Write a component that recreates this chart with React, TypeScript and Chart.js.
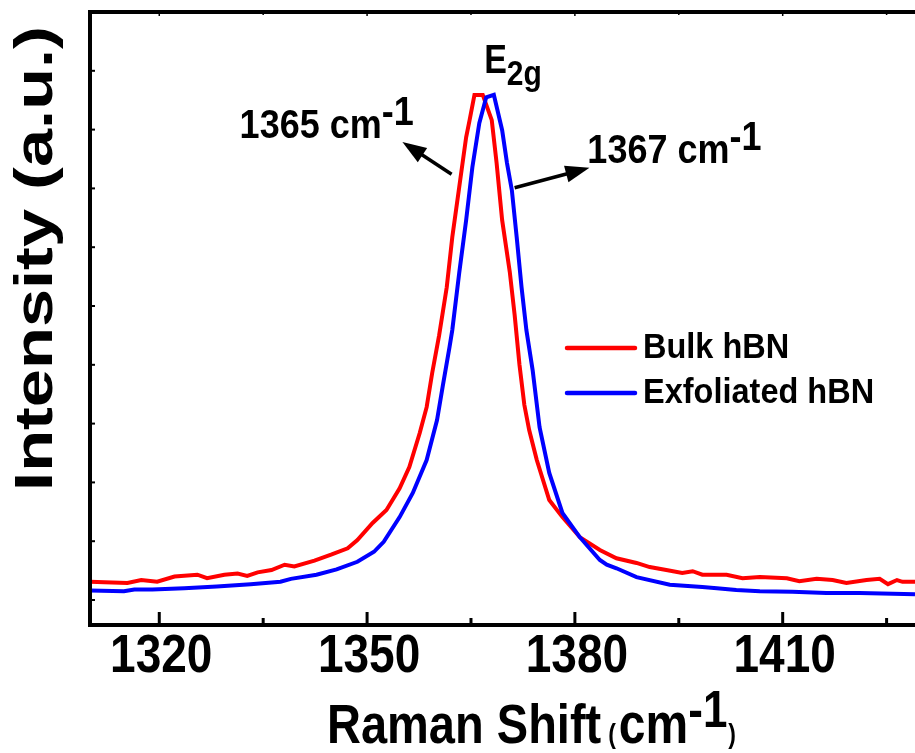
import React, { useEffect, useRef } from 'react';
import { Chart, registerables } from 'chart.js';

Chart.register(...registerables);

// ---- data ----
const bulkShift = [
  1310.0, 1312.1, 1315.4, 1317.4, 1319.7, 1322.2, 1325.5, 1326.9, 1329.4, 1331.3,
  1332.7, 1334.2, 1336.2, 1338.1, 1339.5, 1342.4, 1344.8, 1347.2, 1348.6, 1350.8,
  1352.8, 1354.7, 1356.1, 1357.6, 1358.6, 1359.4, 1360.4, 1361.5, 1362.3, 1363.3,
  1364.3, 1364.8, 1365.5, 1366.7, 1368.0, 1368.7, 1369.5, 1370.6, 1371.3, 1372.0,
  1372.7, 1373.4, 1374.5, 1376.3, 1378.2, 1380.7, 1383.6, 1386.0, 1388.9, 1390.8,
  1393.2, 1395.5, 1397.0, 1398.4, 1401.9, 1404.2, 1406.7, 1410.6, 1412.4, 1414.9,
  1417.2, 1419.2, 1422.1, 1424.0, 1425.2, 1426.5, 1427.3, 1429.1,
];
const bulkIntensity = [
  0.31, 0.30, 0.29, 0.34, 0.31, 0.40, 0.43, 0.37, 0.43, 0.45,
  0.41, 0.47, 0.51, 0.60, 0.57, 0.67, 0.77, 0.88, 1.02, 1.31,
  1.53, 1.90, 2.26, 2.84, 3.28, 3.86, 4.50, 5.32, 6.17, 7.02,
  7.87, 8.16, 8.59, 8.59, 8.16, 7.43, 6.46, 5.58, 4.85, 4.00,
  3.32, 2.89, 2.38, 1.70, 1.41, 1.07, 0.85, 0.71, 0.63, 0.56,
  0.51, 0.46, 0.49, 0.43, 0.43, 0.37, 0.39, 0.37, 0.32, 0.36,
  0.34, 0.29, 0.34, 0.36, 0.27, 0.34, 0.31, 0.31,
];
const exfShift = [
  1310.0, 1314.9, 1316.4, 1319.0, 1323.6, 1328.3, 1333.2, 1337.5, 1339.0, 1342.7,
  1345.6, 1348.6, 1351.0, 1352.4, 1354.7, 1356.6, 1358.6, 1360.1, 1360.9, 1361.9,
  1362.3, 1363.3, 1364.3, 1365.2, 1366.2, 1367.2, 1368.3, 1369.5, 1370.2, 1370.9,
  1371.6, 1372.3, 1373.0, 1373.9, 1374.9, 1376.3, 1378.2, 1380.7, 1383.6, 1384.6,
  1386.0, 1388.9, 1393.7, 1398.4, 1400.5, 1403.3, 1406.7, 1411.4, 1416.3, 1421.1,
  1429.1,
];
const exfIntensity = [
  0.16, 0.15, 0.18, 0.18, 0.20, 0.23, 0.27, 0.31, 0.36, 0.43,
  0.52, 0.65, 0.82, 0.99, 1.41, 1.82, 2.38, 3.06, 3.62, 4.30,
  4.59, 5.56, 6.46, 7.36, 8.11, 8.55, 8.59, 7.99, 7.43, 6.97,
  6.17, 5.32, 4.59, 3.91, 2.94, 2.16, 1.48, 1.07, 0.68, 0.60,
  0.54, 0.39, 0.26, 0.22, 0.20, 0.17, 0.15, 0.14, 0.12, 0.12,
  0.10,
];
const seriesNames = ['Bulk hBN', 'Exfoliated hBN'];
const xMajorTicks = [1320, 1350, 1380, 1410];
const xMinorTicks = [1335, 1365, 1395, 1425];
const yTickValues = [0, 1, 2, 3, 4, 5, 6, 7, 8, 9, 10];

// annotation anchors (data coordinates)
const leftPeakLabel = { text: '1365 cm', sup: '-1', x: 1331.6, y: 7.86 };
const rightPeakLabel = { text: '1367 cm', sup: '-1', x: 1381.8, y: 7.43 };
const modeLabel = { main: 'E', sub: '2g', x: 1366.9, y: 8.96 };
const leftArrow = { x1: 1362.2, y1: 7.24, x2: 1355.1, y2: 7.79 };
const rightArrow = { x1: 1371.3, y1: 7.01, x2: 1382.1, y2: 7.35 };

const FONT = '"Liberation Sans", Arial, Helvetica, sans-serif';

type Part = { t: string; size: number; dy?: number; gap?: number };

function drawRun(ctx: CanvasRenderingContext2D, x: number, y: number, parts: Part[], sy: number) {
  let cx = x;
  for (const p of parts) {
    cx += p.gap || 0;
    ctx.save();
    ctx.font = `bold ${p.size}px ${FONT}`;
    const w = ctx.measureText(p.t).width;
    ctx.translate(cx, y + (p.dy || 0));
    ctx.scale(1, sy);
    ctx.textAlign = 'left';
    ctx.textBaseline = 'alphabetic';
    ctx.fillStyle = '#000';
    ctx.fillText(p.t, 0, 0);
    ctx.restore();
    cx += w;
  }
  return cx - x;
}

function drawArrow(ctx: CanvasRenderingContext2D, x1: number, y1: number, x2: number, y2: number) {
  const headLen = 24;
  const headW = 8.5;
  const ang = Math.atan2(y2 - y1, x2 - x1);
  const bx = x2 - headLen * Math.cos(ang);
  const by = y2 - headLen * Math.sin(ang);
  ctx.save();
  ctx.strokeStyle = '#000';
  ctx.fillStyle = '#000';
  ctx.lineWidth = 3.5;
  ctx.beginPath();
  ctx.moveTo(x1, y1);
  ctx.lineTo(bx + 2 * Math.cos(ang), by + 2 * Math.sin(ang));
  ctx.stroke();
  ctx.beginPath();
  ctx.moveTo(x2, y2);
  ctx.lineTo(bx + headW * Math.sin(ang), by - headW * Math.cos(ang));
  ctx.lineTo(bx - headW * Math.sin(ang), by + headW * Math.cos(ang));
  ctx.closePath();
  ctx.fill();
  ctx.restore();
}

const decorPlugin = {
  id: 'decor',
  afterDatasetsDraw(chart: any) {
    const ctx: CanvasRenderingContext2D = chart.ctx;
    const { left, right, top, bottom } = chart.chartArea;
    const xs = chart.scales.x;
    const ys = chart.scales.y;
    ctx.save();

    // axes frame
    ctx.strokeStyle = '#000';
    ctx.lineCap = 'square';
    ctx.lineWidth = 4;
    ctx.beginPath();
    ctx.moveTo(left, top);
    ctx.lineTo(left, bottom);
    ctx.lineTo(right + 4, bottom);
    ctx.moveTo(left, top);
    ctx.lineTo(right + 4, top);
    ctx.stroke();
    ctx.lineCap = 'butt';

    // x ticks (inward)
    for (const t of xs.ticks) {
      const v = t.value;
      const px = xs.getPixelForValue(v);
      const major = xMajorTicks.includes(v);
      ctx.lineWidth = 3;
      ctx.beginPath();
      ctx.moveTo(px, bottom);
      ctx.lineTo(px, bottom - (major ? 13 : 7));
      ctx.stroke();
      ctx.lineWidth = 1.5;
      ctx.beginPath();
      ctx.moveTo(px, top);
      ctx.lineTo(px, top + (major ? 4 : 3));
      ctx.stroke();
      if (major) {
        ctx.save();
        ctx.font = `bold 46px ${FONT}`;
        ctx.fillStyle = '#000';
        ctx.textAlign = 'center';
        ctx.textBaseline = 'alphabetic';
        ctx.translate(px + 2, bottom + 47);
        ctx.scale(1, 1.16);
        ctx.fillText(String(v), 0, 0);
        ctx.restore();
      }
    }
    // y ticks (inward, small)
    ctx.lineWidth = 2;
    for (const t of ys.ticks) {
      const py = ys.getPixelForValue(t.value);
      ctx.beginPath();
      ctx.moveTo(left, py);
      ctx.lineTo(left + 5, py);
      ctx.stroke();
    }

    // x title
    drawRun(ctx, left + 237, bottom + 118, [
      { t: 'Raman Shift', size: 47 },
      { t: '(', size: 23, gap: 7 },
      { t: 'cm', size: 48, gap: 3 },
      { t: '-1', size: 44, dy: -16 },
      { t: ')', size: 23, gap: 1 },
    ], 1.19);

    // y title
    ctx.save();
    ctx.font = `bold 54px ${FONT}`;
    ctx.fillStyle = '#000';
    ctx.textAlign = 'center';
    ctx.textBaseline = 'alphabetic';
    ctx.translate(left - 38, (top + bottom) / 2 - 60);
    ctx.rotate(-Math.PI / 2);
    ctx.scale(1.27, 1);
    ctx.fillText('Intensity (a.u.)', 0, 0);
    ctx.restore();

    // peak annotations
    drawRun(ctx, xs.getPixelForValue(leftPeakLabel.x), ys.getPixelForValue(leftPeakLabel.y), [
      { t: leftPeakLabel.text, size: 36 },
      { t: leftPeakLabel.sup, size: 36, dy: -13 },
    ], 1.15);
    drawRun(ctx, xs.getPixelForValue(rightPeakLabel.x), ys.getPixelForValue(rightPeakLabel.y), [
      { t: rightPeakLabel.text, size: 36 },
      { t: rightPeakLabel.sup, size: 36, dy: -13 },
    ], 1.15);
    drawRun(ctx, xs.getPixelForValue(modeLabel.x), ys.getPixelForValue(modeLabel.y), [
      { t: modeLabel.main, size: 34 },
      { t: modeLabel.sub, size: 30, dy: 12 },
    ], 1.18);
    drawArrow(ctx, xs.getPixelForValue(leftArrow.x1), ys.getPixelForValue(leftArrow.y1),
      xs.getPixelForValue(leftArrow.x2), ys.getPixelForValue(leftArrow.y2));
    drawArrow(ctx, xs.getPixelForValue(rightArrow.x1), ys.getPixelForValue(rightArrow.y1),
      xs.getPixelForValue(rightArrow.x2), ys.getPixelForValue(rightArrow.y2));

    // legend
    const lx = left + 477;
    const ly = top + 336;
    chart.data.datasets.forEach((ds: any, i: number) => {
      const y = ly + i * 45;
      ctx.strokeStyle = ds.borderColor;
      ctx.lineWidth = 4.5;
      ctx.lineCap = 'round';
      ctx.beginPath();
      ctx.moveTo(lx, y);
      ctx.lineTo(lx + 68, y);
      ctx.stroke();
      drawRun(ctx, lx + 76, y + 10, [{ t: ds.label, size: 32.5 }], 1.08);
    });

    ctx.restore();
  },
};

export default function App() {
  const ref = useRef<HTMLCanvasElement>(null);
  useEffect(() => {
    const canvas = ref.current;
    if (!canvas) return;
    const chart = new Chart(canvas, {
      type: 'line',
      data: {
        datasets: [
          {
            label: seriesNames[0],
            data: bulkShift.map((x, i) => ({ x, y: bulkIntensity[i] })),
            borderColor: '#ff0000',
            backgroundColor: '#ff0000',
            borderWidth: 4,
            pointRadius: 0,
            tension: 0,
            fill: false,
            order: 1,
          },
          {
            label: seriesNames[1],
            data: exfShift.map((x, i) => ({ x, y: exfIntensity[i] })),
            borderColor: '#0000ff',
            backgroundColor: '#0000ff',
            borderWidth: 4,
            pointRadius: 0,
            tension: 0,
            fill: false,
            order: 0,
          },
        ],
      },
      options: {
        responsive: false,
        animation: false,
        devicePixelRatio: 1,
        layout: { padding: { top: 12, left: 0, right: 0, bottom: 0 } },
        plugins: { legend: { display: false }, tooltip: { enabled: false } },
        scales: {
          x: {
            type: 'linear',
            min: 1310,
            max: 1429.1,
            grid: { display: false },
            border: { display: false },
            ticks: { display: false },
            afterBuildTicks: (s: any) => {
              s.ticks = [...xMajorTicks, ...xMinorTicks].sort((a, b) => a - b).map((v) => ({ value: v }));
            },
            afterFit: (s: any) => {
              s.height = 128;
            },
          },
          y: {
            type: 'linear',
            min: -0.425,
            max: 10,
            grid: { display: false },
            border: { display: false },
            ticks: { display: false },
            afterBuildTicks: (s: any) => {
              s.ticks = yTickValues.map((v) => ({ value: v }));
            },
            afterFit: (s: any) => {
              s.width = 90;
            },
          },
        },
      },
      plugins: [decorPlugin],
    } as any);
    return () => chart.destroy();
  }, []);
  return (
    <div style={{ position: 'fixed', left: 0, top: 0, width: 915, height: 753, background: '#fff' }}>
      <canvas ref={ref} width={915} height={753} style={{ display: 'block', width: 915, height: 753 }} />
    </div>
  );
}
